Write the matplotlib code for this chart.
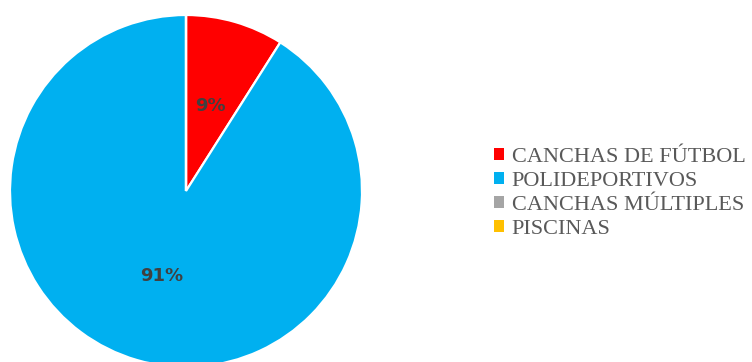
import matplotlib.pyplot as plt
from matplotlib.patches import Patch

categories = ["CANCHAS DE FÚTBOL", "POLIDEPORTIVOS", "CANCHAS MÚLTIPLES", "PISCINAS"]
values = [9, 91, 0, 0]
colors = ["#FF0000", "#00B0F0", "#A5A5A5", "#FFC000"]

W, H = 752, 362
fig = plt.figure(figsize=(W / 100, H / 100), dpi=100)

# pie centre (186, 191) px, radius 176 px
cx, cy, r = 186, 191, 176
lim = 1.05
half = r * lim
ax = fig.add_axes([(cx - half) / W, (H - cy - half) / H, 2 * half / W, 2 * half / H])


def fmt(p):
    return f"{p:.0f}%" if p > 0 else ""


wedges, texts, autotexts = ax.pie(
    values, colors=colors, startangle=90, counterclock=False,
    autopct=fmt, pctdistance=0.5, radius=1,
    wedgeprops=dict(edgecolor="white", linewidth=1.6),
    textprops=dict(color="#404040", fontsize=13, fontweight="bold"),
)
ax.set_xlim(-lim, lim)
ax.set_ylim(-lim, lim)
ax.set_aspect("equal")
ax.axis("off")

handles = [Patch(facecolor=c, edgecolor="none") for c in colors]
fig.legend(handles, categories, loc="center left", bbox_to_anchor=(494 / W, 0.466),
           frameon=False, prop={"family": "Liberation Serif", "size": 16},
           labelcolor="#595959", handlelength=0.45, handleheight=0.45,
           handletextpad=0.35, labelspacing=0.22, borderpad=0, borderaxespad=0)

fig.savefig("out.png", dpi=100)
